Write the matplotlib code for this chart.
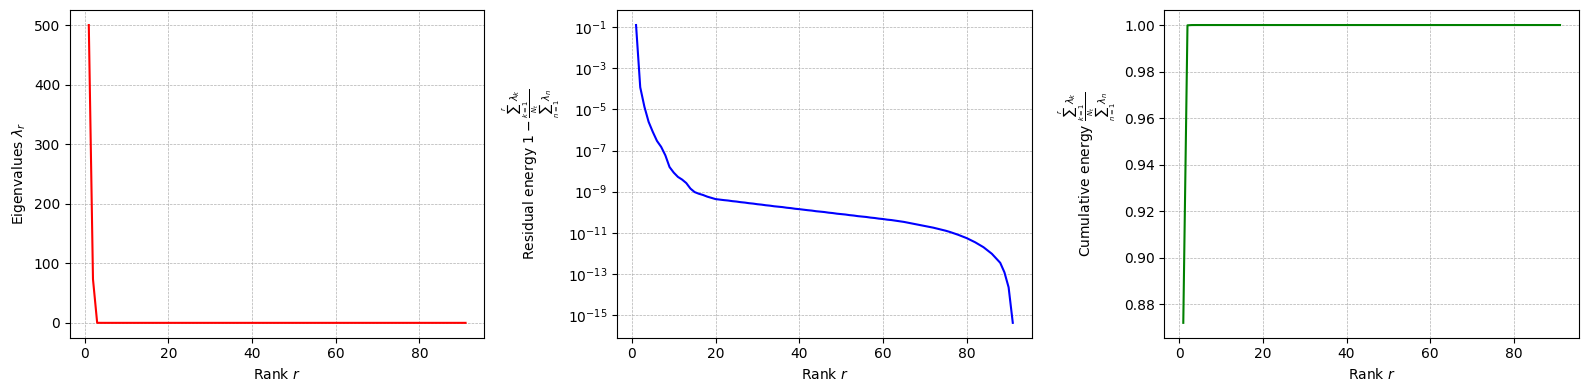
import numpy as np
import matplotlib
matplotlib.use("Agg")
import matplotlib.pyplot as plt

# Rank r = 1..91
ranks = np.arange(1, 92)

# log10 of residual energy, one value per rank
log_residual = [
    -0.893, -3.92, -4.87, -5.60, -6.09, -6.53, -6.82, -7.23, -7.80, -8.07,   # 1-10
    -8.28, -8.41, -8.58, -8.85, -9.02, -9.10, -9.16, -9.24, -9.30, -9.36,    # 11-20
    -9.385, -9.41, -9.43, -9.46, -9.48, -9.51, -9.53, -9.56, -9.58, -9.61,   # 21-30
    -9.63, -9.66, -9.68, -9.71, -9.73, -9.75, -9.78, -9.80, -9.83, -9.85,    # 31-40
    -9.875, -9.90, -9.92, -9.95, -9.97, -9.99, -10.02, -10.04, -10.07, -10.09,  # 41-50
    -10.11, -10.14, -10.16, -10.19, -10.21, -10.23, -10.26, -10.28, -10.31, -10.33,  # 51-60
    -10.36, -10.38, -10.41, -10.44, -10.47, -10.51, -10.55, -10.59, -10.63, -10.67,  # 61-70
    -10.71, -10.75, -10.80, -10.85, -10.90, -10.96, -11.03, -11.10, -11.18, -11.26,  # 71-80
    -11.36, -11.46, -11.58, -11.70, -11.86, -12.02, -12.24, -12.46, -12.92, -13.65,  # 81-90
    -15.38,                                                                      # 91
]

lambda_1 = 500.0  # leading eigenvalue

residual = 10.0 ** np.array(log_residual)
cumulative = 1.0 - residual
total = lambda_1 / cumulative[0]
prev = np.concatenate([[1.0], residual[:-1]])
eigenvalues = total * (prev - residual)

fig, axes = plt.subplots(1, 3, figsize=(15.9, 3.9), dpi=100)
fig.subplots_adjust(left=0.044, right=0.993, top=0.974, bottom=0.134, wspace=0.3205)

ax = axes[0]
ax.plot(ranks, eigenvalues, color='r')
ax.set_xlabel(r'Rank $r$')
ax.set_ylabel(r'Eigenvalues $\lambda_r$')
ax.grid(True, linestyle='--', linewidth=0.5)

ax = axes[1]
ax.semilogy(ranks, residual, color='b')
ax.set_xlabel(r'Rank $r$')
ax.set_ylabel(r'Residual energy $1-\frac{\sum_{k=1}^{r}\lambda_k}{\sum_{n=1}^{N_t}\lambda_n}$')
ax.grid(True, linestyle='--', linewidth=0.5)

ax = axes[2]
ax.plot(ranks, cumulative, color='g')
ax.set_xlabel(r'Rank $r$')
ax.set_ylabel(r'Cumulative energy $\frac{\sum_{k=1}^{r}\lambda_k}{\sum_{n=1}^{N_t}\lambda_n}$')
ax.grid(True, linestyle='--', linewidth=0.5)

fig.savefig('out.png', dpi=100)
